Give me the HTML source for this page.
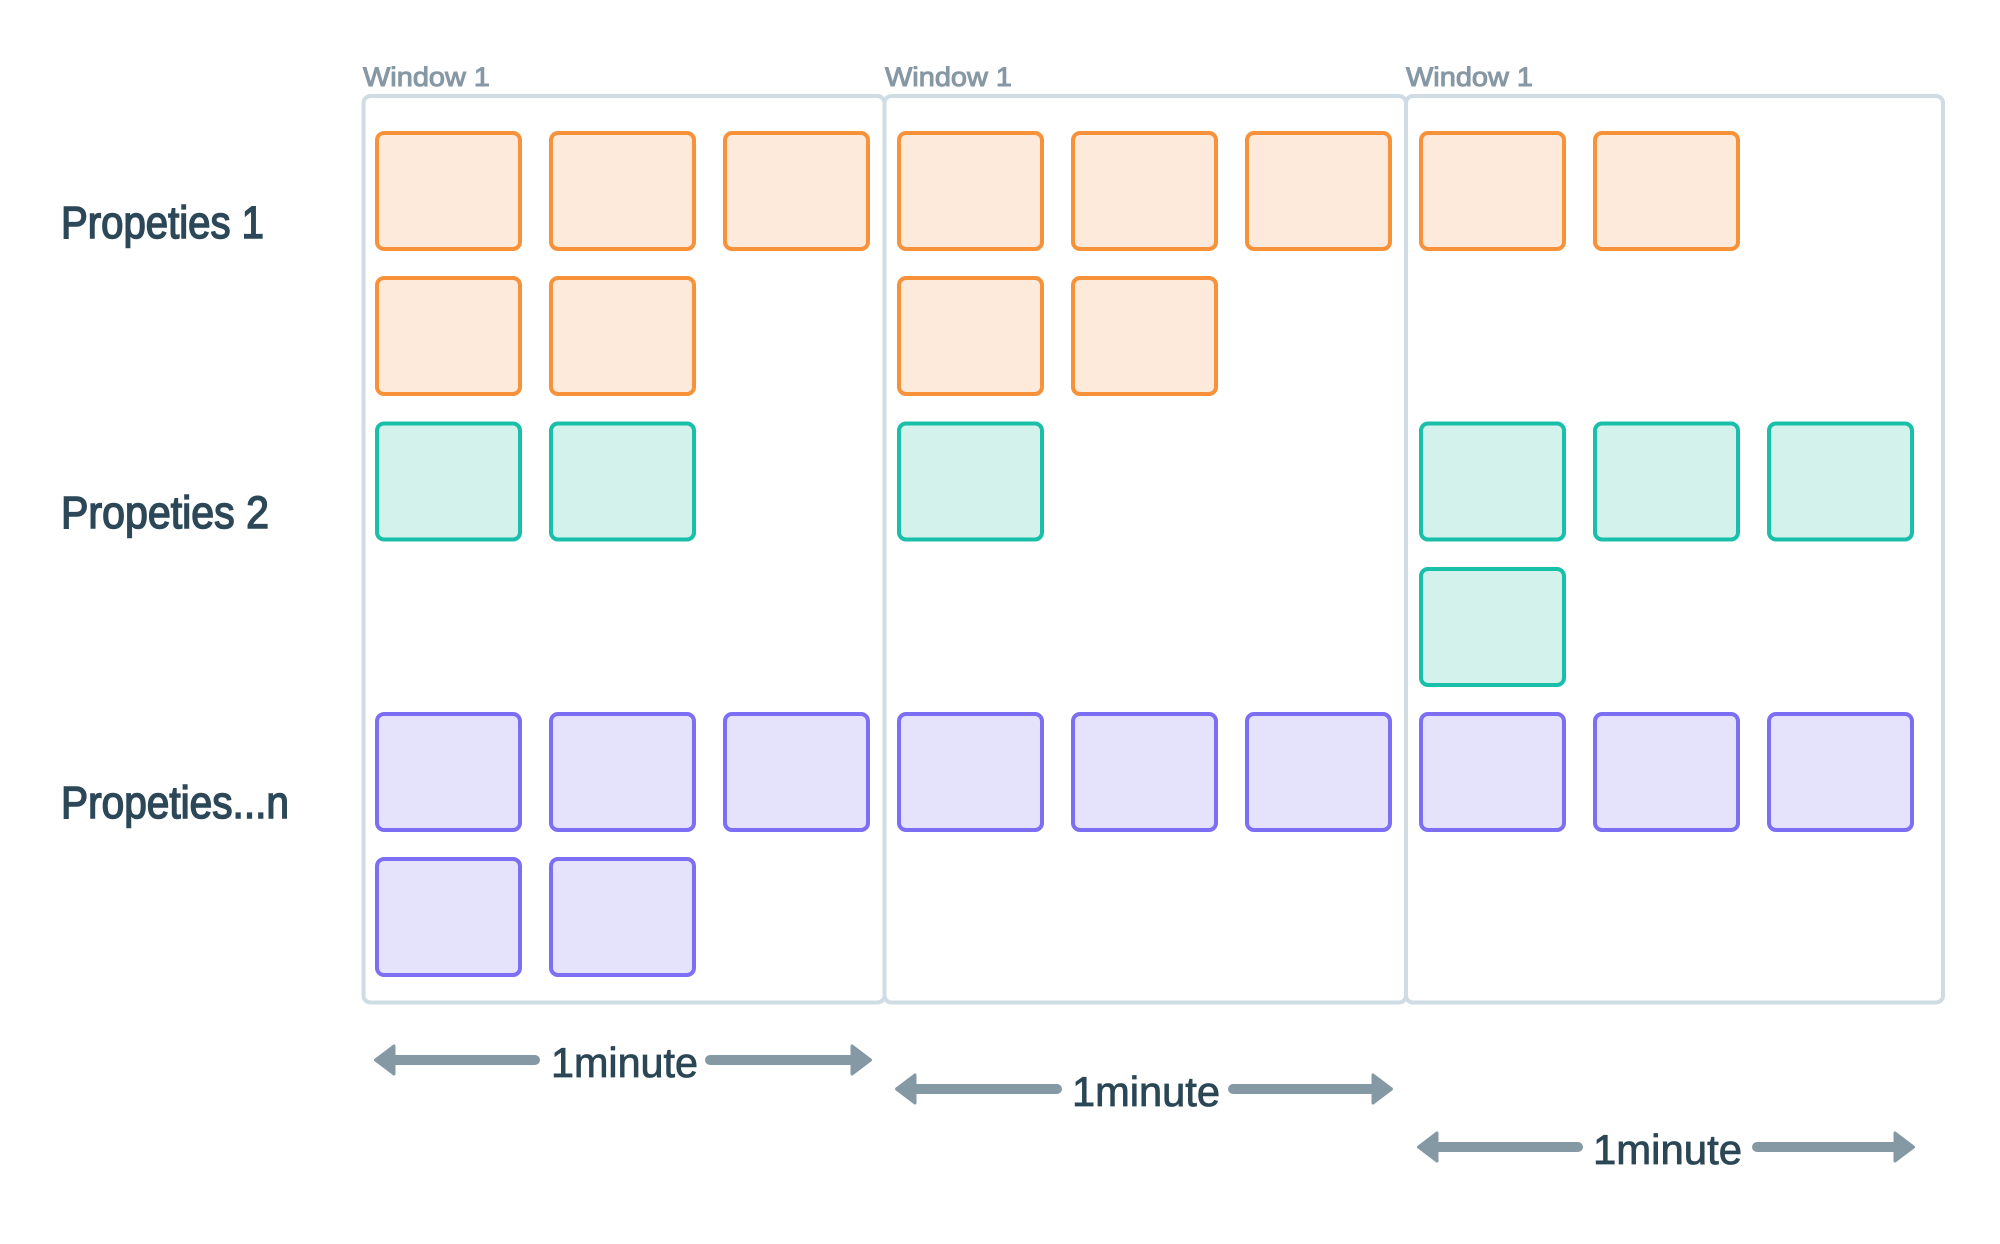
<!DOCTYPE html>
<html>
<head>
<meta charset="utf-8">
<style>
  html, body { margin:0; padding:0; background:#ffffff; }
  svg { display:block; }
</style>
</head>
<body>
<svg width="2000" height="1244" viewBox="0 0 2000 1244" xmlns="http://www.w3.org/2000/svg">
  <rect x="0" y="0" width="2000" height="1244" fill="#ffffff"/>

  <!-- Window containers -->
  <g fill="none" stroke="#cfdce4" stroke-width="4">
    <rect x="363.5" y="96" width="521" height="906.5" rx="7"/>
    <rect x="884.5" y="96" width="521.5" height="906.5" rx="7"/>
    <rect x="1406" y="96" width="537" height="906.5" rx="7"/>
  </g>

  <!-- Window labels -->
  <g font-family="Liberation Sans, sans-serif" font-size="27" fill="#8798a5" stroke="#8798a5" stroke-width="1">
    <text x="363" y="86" textLength="127" lengthAdjust="spacingAndGlyphs">Window 1</text>
    <text x="885" y="86" textLength="127" lengthAdjust="spacingAndGlyphs">Window 1</text>
    <text x="1406" y="86" textLength="127" lengthAdjust="spacingAndGlyphs">Window 1</text>
  </g>

  <!-- Row labels -->
  <g font-family="Liberation Sans, sans-serif" font-size="45" fill="#2c4858" stroke="#2c4858" stroke-width="1.5">
    <text x="61" y="238" textLength="203" lengthAdjust="spacingAndGlyphs">Propeties 1</text>
    <text x="61" y="528" textLength="208" lengthAdjust="spacingAndGlyphs">Propeties 2</text>
    <text x="61" y="818" textLength="228" lengthAdjust="spacingAndGlyphs">Propeties...n</text>
  </g>

  <!-- Orange boxes -->
  <g fill="#fdeadb" stroke="#f7923a" stroke-width="4">
    <rect x="377" y="133" width="143" height="116" rx="7"/>
    <rect x="551" y="133" width="143" height="116" rx="7"/>
    <rect x="725" y="133" width="143" height="116" rx="7"/>
    <rect x="899" y="133" width="143" height="116" rx="7"/>
    <rect x="1073" y="133" width="143" height="116" rx="7"/>
    <rect x="1247" y="133" width="143" height="116" rx="7"/>
    <rect x="1421" y="133" width="143" height="116" rx="7"/>
    <rect x="1595" y="133" width="143" height="116" rx="7"/>
    <rect x="377" y="278" width="143" height="116" rx="7"/>
    <rect x="551" y="278" width="143" height="116" rx="7"/>
    <rect x="899" y="278" width="143" height="116" rx="7"/>
    <rect x="1073" y="278" width="143" height="116" rx="7"/>
  </g>

  <!-- Teal boxes -->
  <g fill="#d3f2ec" stroke="#19bfa9" stroke-width="4">
    <rect x="377" y="423.5" width="143" height="116" rx="7"/>
    <rect x="551" y="423.5" width="143" height="116" rx="7"/>
    <rect x="899" y="423.5" width="143" height="116" rx="7"/>
    <rect x="1421" y="423.5" width="143" height="116" rx="7"/>
    <rect x="1595" y="423.5" width="143" height="116" rx="7"/>
    <rect x="1769" y="423.5" width="143" height="116" rx="7"/>
    <rect x="1421" y="569" width="143" height="116" rx="7"/>
  </g>

  <!-- Purple boxes -->
  <g fill="#e5e3fc" stroke="#7d6ff4" stroke-width="4">
    <rect x="377" y="714" width="143" height="116" rx="7"/>
    <rect x="551" y="714" width="143" height="116" rx="7"/>
    <rect x="725" y="714" width="143" height="116" rx="7"/>
    <rect x="899" y="714" width="143" height="116" rx="7"/>
    <rect x="1073" y="714" width="143" height="116" rx="7"/>
    <rect x="1247" y="714" width="143" height="116" rx="7"/>
    <rect x="1421" y="714" width="143" height="116" rx="7"/>
    <rect x="1595" y="714" width="143" height="116" rx="7"/>
    <rect x="1769" y="714" width="143" height="116" rx="7"/>
    <rect x="377" y="859" width="143" height="116" rx="7"/>
    <rect x="551" y="859" width="143" height="116" rx="7"/>
  </g>

  <!-- Arrows -->
  <g stroke="#8599a5" fill="#8599a5">
    <line x1="390" y1="1060" x2="535" y2="1060" stroke-width="10" stroke-linecap="round"/>
    <line x1="710" y1="1060" x2="858" y2="1060" stroke-width="10" stroke-linecap="round"/>
    <polygon points="375.5,1060 394,1046 394,1074" stroke-width="3" stroke-linejoin="round"/>
    <polygon points="870.5,1060 852,1046 852,1074" stroke-width="3" stroke-linejoin="round"/>

    <line x1="911" y1="1089" x2="1057" y2="1089" stroke-width="10" stroke-linecap="round"/>
    <line x1="1233" y1="1089" x2="1379" y2="1089" stroke-width="10" stroke-linecap="round"/>
    <polygon points="896.5,1089 915,1075 915,1103" stroke-width="3" stroke-linejoin="round"/>
    <polygon points="1391.5,1089 1373,1075 1373,1103" stroke-width="3" stroke-linejoin="round"/>

    <line x1="1433" y1="1147" x2="1578" y2="1147" stroke-width="10" stroke-linecap="round"/>
    <line x1="1757" y1="1147" x2="1901" y2="1147" stroke-width="10" stroke-linecap="round"/>
    <polygon points="1418.5,1147 1437,1133 1437,1161" stroke-width="3" stroke-linejoin="round"/>
    <polygon points="1913.5,1147 1895,1133 1895,1161" stroke-width="3" stroke-linejoin="round"/>
  </g>

  <!-- Arrow labels -->
  <g font-family="Liberation Sans, sans-serif" font-size="42" fill="#2b4655" stroke="#2b4655" stroke-width="0.8">
    <text x="551" y="1077" textLength="147" lengthAdjust="spacingAndGlyphs">1minute</text>
    <text x="1072" y="1106" textLength="148" lengthAdjust="spacingAndGlyphs">1minute</text>
    <text x="1593" y="1164" textLength="149" lengthAdjust="spacingAndGlyphs">1minute</text>
  </g>
</svg>
</body>
</html>
